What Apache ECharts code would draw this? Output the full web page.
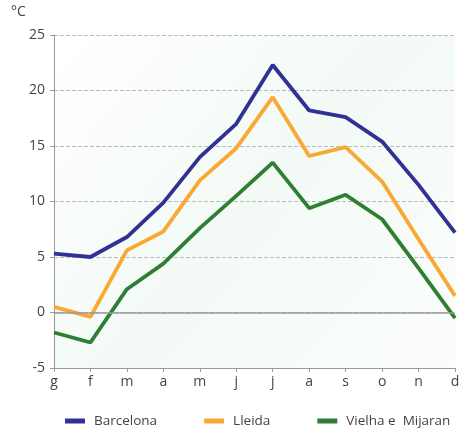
<!DOCTYPE html>
<html>
<head>
<meta charset="utf-8">
<script src="https://cdn.jsdelivr.net/npm/echarts@6/dist/echarts.min.js"></script>
<style>
  html, body { margin: 0; padding: 0; background: #fff; }
  #chart { width: 472px; height: 438px; }
</style>
</head>
<body>
<div id="chart"></div>
<script>
// mesos (en català)
var months = ['g', 'f', 'm', 'a', 'm', 'j', 'j', 'a', 's', 'o', 'n', 'd'];

var barcelona = [5.3, 5.0, 6.8, 9.9, 14.0, 17.0, 22.3, 18.2, 17.6, 15.4, 11.5, 7.2];
var lleida    = [0.5, -0.4, 5.6, 7.3, 11.9, 14.8, 19.4, 14.1, 14.9, 11.8, 6.6, 1.5];
var vielha    = [-1.8, -2.7, 2.1, 4.4, 7.6, 10.5, 13.5, 9.4, 10.6, 8.4, 4.0, -0.5];

var chart = echarts.init(document.getElementById('chart'));

function line(name, data, color) {
  return {
    name: name,
    type: 'line',
    data: data,
    symbol: 'none',
    lineStyle: { width: 3.8, color: color },
    itemStyle: { color: color }
  };
}

var option = {
  backgroundColor: '#fff',
  textStyle: { fontFamily: 'Open Sans' },
  grid: { left: 54, right: 17, top: 35, bottom: 70 },
  graphic: [
    {
      type: 'rect',
      z: -1,
      shape: { x: 54, y: 35, width: 401, height: 333 },
      style: {
        fill: new echarts.graphic.LinearGradient(0, 0, 1, 1, [
          { offset: 0, color: '#ffffff' },
          { offset: 0.5, color: '#f3faf6' },
          { offset: 1, color: '#fbfdfc' }
        ])
      }
    },
    {
      type: 'text',
      left: 11,
      top: 5,
      style: { text: '°C', fontSize: 14, fill: '#444', fontFamily: 'Open Sans' }
    }
  ],
  legend: {
    bottom: 5,
    left: 60,
    itemGap: 47,
    itemWidth: 20,
    itemHeight: 5,
    icon: 'rect',
    textStyle: { fontSize: 13.5, color: '#444', fontFamily: 'Open Sans', padding: [0, 0, 0, 4] },
    data: ['Barcelona', 'Lleida', 'Vielha e  Mijaran']
  },
  xAxis: {
    type: 'category',
    data: months,
    boundaryGap: false,
    axisLine: { onZero: false, lineStyle: { color: '#999' } },
    axisTick: { show: true, length: 4, lineStyle: { color: '#999' } },
    axisLabel: { color: '#444', fontSize: 14, margin: 7 }
  },
  yAxis: {
    type: 'value',
    min: -5,
    max: 25,
    interval: 5,
    axisLine: { show: true, lineStyle: { color: '#999' } },
    axisTick: { show: true, length: 4, lineStyle: { color: '#999' } },
    axisLabel: { color: '#444', fontSize: 14, margin: 9 },
    splitLine: { show: true, lineStyle: { type: 'dashed', color: '#bbb', width: 1 } }
  },
  series: [
    line('Barcelona', barcelona, '#2f3194'),
    line('Lleida', lleida, '#f9a932'),
    line('Vielha e  Mijaran', vielha, '#2f7f33'),
    {
      name: 'zero',
      type: 'line',
      data: [],
      markLine: {
        silent: true,
        symbol: 'none',
        label: { show: false },
        lineStyle: { color: '#999', type: 'solid', width: 1.5 },
        data: [{ yAxis: 0 }]
      },
      z: 1
    }
  ]
};

chart.setOption(option);
</script>
</body>
</html>
